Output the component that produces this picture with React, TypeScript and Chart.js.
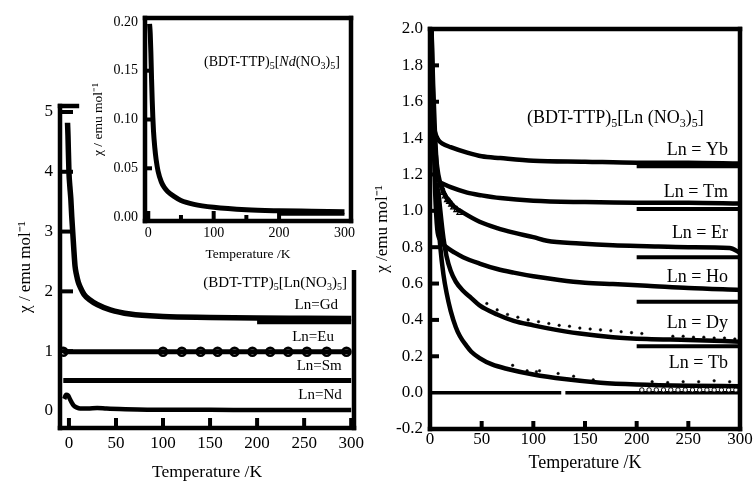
import React, { useEffect, useRef } from 'react';
import { Chart, registerables } from 'chart.js';
Chart.register(...registerables);

const FONT = "'Liberation Serif', 'Times New Roman', Times, serif";

// ---------- Left main panel ----------
const leftXTicks = [0, 50, 100, 150, 200, 250, 300];
const leftXTickLabels = ['0', '50', '100', '150', '200', '250', '300'];
const leftYTicks = [0, 1, 2, 3, 4, 5];
const leftYTickLabels = ['0', '1', '2', '3', '4', '5'];

const tGd = [-1.5, -1, 0, 1, 2, 3, 4, 5, 6.5, 8, 10, 12, 16, 22, 30, 44, 65, 100, 150, 200, 250, 300];
const chiGd = [4.82, 4.6, 4.0, 3.75, 3.55, 3.25, 3.0, 2.75, 2.42, 2.28, 2.15, 2.07, 1.95, 1.86, 1.78, 1.69, 1.62, 1.58, 1.565, 1.555, 1.55, 1.545];
const tGdBar = [200, 300];
const chiGdBar = [1.49, 1.49];

const tEu = [-6, 0, 20, 40, 60, 80, 100, 150, 200, 250, 300];
const chiEu = [0.99, 0.99, 0.99, 0.99, 0.99, 0.99, 0.99, 0.99, 0.99, 0.99, 0.99];
const tEuCircles = [-6, 100, 120, 140, 158, 176, 195, 214, 233, 253, 274, 295];
const chiEuCircles = [0.99, 0.99, 0.99, 0.99, 0.99, 0.99, 0.99, 0.99, 0.99, 0.99, 0.99, 0.99];

const tSm = [-6, 0, 20, 40, 60, 80, 100, 150, 200, 250, 300];
const chiSm = [0.51, 0.51, 0.51, 0.51, 0.51, 0.51, 0.51, 0.51, 0.51, 0.51, 0.51];

const tNdMain = [-5, -3, -1, 1, 3, 5, 8, 12, 20, 30, 40, 60, 100, 150, 200, 250, 300];
const chiNdMain = [0.2, 0.27, 0.26, 0.2, 0.14, 0.09, 0.06, 0.04, 0.04, 0.05, 0.04, 0.03, 0.02, 0.02, 0.015, 0.015, 0.015];

// ---------- Inset (Nd) ----------
const insetXTicks = [0, 100, 200, 300];
const insetXTickLabels = ['0', '100', '200', '300'];
const insetYTicks = [0, 0.05, 0.1, 0.15, 0.2];
const insetYTickLabels = ['0.00', '0.05', '0.10', '0.15', '0.20'];

const tNd = [2, 3, 4, 5, 6, 7, 8, 10, 12, 15, 20, 25, 30, 40, 50, 70, 100, 150, 200, 250, 300];
const chiNd = [0.198, 0.188, 0.168, 0.142, 0.12, 0.102, 0.088, 0.071, 0.059, 0.047, 0.036, 0.03, 0.026, 0.021, 0.017, 0.013, 0.01, 0.0075, 0.0065, 0.006, 0.0055];
const tNdBar = [200, 300];
const chiNdBar = [0.003, 0.003];

// ---------- Right panel ----------
const rightXTicks = [0, 50, 100, 150, 200, 250, 300];
const rightXTickLabels = ['0', '50', '100', '150', '200', '250', '300'];
const rightYTicks = [-0.2, 0, 0.2, 0.4, 0.6, 0.8, 1.0, 1.2, 1.4, 1.6, 1.8, 2.0];
const rightYTickLabels = ['-0.2', '0.0', '0.2', '0.4', '0.6', '0.8', '1.0', '1.2', '1.4', '1.6', '1.8', '2.0'];

const tYb = [1.5, 3, 5, 8, 12, 20, 36, 50, 68, 100, 150, 200, 250, 300];
const chiYb = [1.62, 1.5, 1.43, 1.39, 1.37, 1.35, 1.32, 1.3, 1.29, 1.275, 1.27, 1.265, 1.265, 1.26];
const tTm = [1.5, 3, 5, 8, 12, 20, 36, 50, 68, 100, 150, 200, 250, 300];
const chiTm = [1.72, 1.45, 1.28, 1.17, 1.15, 1.13, 1.1, 1.085, 1.07, 1.055, 1.048, 1.045, 1.045, 1.04];
const tEr = [1.5, 3, 5, 8, 12, 16, 24, 32, 48, 65, 81, 100, 113, 145, 177, 210, 250, 290, 300];
const chiEr = [1.82, 1.55, 1.35, 1.2, 1.12, 1.07, 1.02, 0.99, 0.94, 0.905, 0.88, 0.855, 0.835, 0.82, 0.81, 0.805, 0.8, 0.795, 0.77];
const tErTri = [9, 11, 13, 15, 17, 19, 21, 23, 26, 29];
const chiErTri = [1.16, 1.13, 1.1, 1.08, 1.06, 1.05, 1.035, 1.02, 1.005, 0.99];
const tHo = [1.5, 3, 5, 7, 10, 16, 24, 32, 48, 65, 81, 100, 125, 150, 177, 210, 250, 300];
const chiHo = [1.9, 1.5, 1.1, 0.9, 0.84, 0.8, 0.77, 0.745, 0.71, 0.68, 0.66, 0.64, 0.62, 0.605, 0.597, 0.588, 0.575, 0.565];
const tDy = [1.5, 3, 5, 8, 10, 13, 16, 20, 25, 32, 40, 48, 65, 81, 100, 113, 145, 177, 210, 250, 300];
const chiDy = [2.0, 1.7, 1.4, 1.12, 1.0, 0.85, 0.75, 0.67, 0.61, 0.56, 0.52, 0.48, 0.43, 0.395, 0.37, 0.355, 0.325, 0.305, 0.295, 0.29, 0.28];
const tDyDots = [55, 65, 75, 85, 95, 105, 115, 125, 135, 145, 155, 165, 175, 185, 195, 205, 235, 245, 255, 265, 275, 285, 295];
const chiDyDots = [0.49, 0.455, 0.43, 0.415, 0.4, 0.39, 0.38, 0.37, 0.365, 0.355, 0.35, 0.345, 0.34, 0.335, 0.33, 0.325, 0.31, 0.31, 0.305, 0.305, 0.3, 0.3, 0.295];
const tTb = [1.5, 3, 5, 8, 10, 13, 16, 20, 25, 29, 35, 40, 48, 60, 75, 100, 130, 165, 200, 250, 300];
const chiTb = [2.0, 1.6, 1.25, 0.95, 0.8, 0.65, 0.55, 0.45, 0.36, 0.31, 0.26, 0.225, 0.19, 0.155, 0.13, 0.1, 0.075, 0.055, 0.045, 0.038, 0.035];
const tTbDots = [80, 94, 103, 106, 124, 139, 158, 215, 230, 245, 260, 275, 290];
const chiTbDots = [0.15, 0.12, 0.115, 0.12, 0.105, 0.09, 0.07, 0.06, 0.055, 0.06, 0.06, 0.065, 0.06];
const tTbOpen = [205, 212, 219, 226, 233, 240, 247, 254, 261, 268, 275, 282, 289, 296];
const chiTbOpen = [0.015, 0.015, 0.015, 0.015, 0.015, 0.015, 0.015, 0.015, 0.015, 0.015, 0.015, 0.015, 0.015, 0.015];
const tRefBar = [200, 300];
const chiYbBar = [1.245, 1.245];
const chiTmBar = [1.01, 1.01];
const chiErBar = [0.745, 0.745];
const chiHoBar = [0.5, 0.5];
const chiDyBar = [0.255, 0.255];
const tZero = [0, 127, 129, 131, 300];
const chiZero: (number | null)[] = [0, 0, null, 0, 0];

// ---------- helpers ----------
type Pt = { x: number; y: number | null };
const pts = (t: number[], v: (number | null)[]): Pt[] => t.map((x, i) => ({ x, y: v[i] }));

const lineDs = (data: Pt[], width: number) => ({
  data,
  borderColor: '#000',
  backgroundColor: '#000',
  borderWidth: width,
  pointRadius: 0,
  cubicInterpolationMode: 'monotone',
  fill: false,
  spanGaps: false,
});
const markDs = (data: Pt[], style: string, r: number, bw: number, bg: string) => ({
  data,
  showLine: false,
  borderColor: '#000',
  backgroundColor: bg,
  pointStyle: style,
  pointRadius: r,
  pointBorderWidth: bw,
  pointBackgroundColor: bg,
  pointBorderColor: '#000',
});

type Part = { t: string; sub?: boolean; sup?: boolean; it?: boolean };
type Note = { x: number; y: number; align: 'left' | 'right'; size: number; parts: Part[] };

function drawRich(ctx: CanvasRenderingContext2D, parts: Part[], x: number, y: number, size: number, align: string) {
  const fontOf = (p: Part) => `${p.it ? 'italic ' : ''}${p.sub || p.sup ? Math.round(size * 0.68) : size}px ${FONT}`;
  const widths = parts.map((p) => {
    ctx.font = fontOf(p);
    return ctx.measureText(p.t).width;
  });
  const total = widths.reduce((a, b) => a + b, 0);
  let cx = align === 'right' ? x - total : x;
  ctx.textBaseline = 'middle';
  ctx.textAlign = 'left';
  ctx.fillStyle = '#000';
  parts.forEach((p, i) => {
    ctx.font = fontOf(p);
    const dy = p.sub ? size * 0.32 : p.sup ? -size * 0.35 : 0;
    ctx.fillText(p.t, cx, y + dy);
    cx += widths[i];
  });
}

type FrameCfg = {
  width: number;
  tickWidth: number;
  xTicks: { v: number; len: number }[];
  yTicks: { v: number; len: number }[];
  topTo?: number; // x value where top edge ends (partial)
  rightFrom?: number; // y value where right edge starts (partial)
};

const makeFrame = (cfg: FrameCfg) => ({
  id: 'frame',
  afterDatasetsDraw(chart: any) {
    const { ctx, chartArea: a, scales } = chart;
    const xs = scales.x;
    const ys = scales.y;
    ctx.save();
    ctx.strokeStyle = '#000';
    ctx.lineCap = 'butt';
    ctx.lineWidth = cfg.tickWidth;
    for (const t of cfg.xTicks) {
      const px = xs.getPixelForValue(t.v);
      ctx.beginPath();
      ctx.moveTo(px, a.bottom);
      ctx.lineTo(px, a.bottom - t.len);
      ctx.stroke();
    }
    for (const t of cfg.yTicks) {
      const py = ys.getPixelForValue(t.v);
      ctx.beginPath();
      ctx.moveTo(a.left, py);
      ctx.lineTo(a.left + t.len, py);
      ctx.stroke();
    }
    ctx.lineWidth = cfg.width;
    ctx.lineCap = 'square';
    const seg = (x1: number, y1: number, x2: number, y2: number) => {
      ctx.beginPath();
      ctx.moveTo(x1, y1);
      ctx.lineTo(x2, y2);
      ctx.stroke();
    };
    seg(a.left, a.top, a.left, a.bottom);
    seg(a.left, a.bottom, a.right, a.bottom);
    const topEnd = cfg.topTo === undefined ? a.right : xs.getPixelForValue(cfg.topTo);
    seg(a.left, a.top, topEnd, a.top);
    const rightStart = cfg.rightFrom === undefined ? a.top : ys.getPixelForValue(cfg.rightFrom);
    seg(a.right, rightStart, a.right, a.bottom);
    ctx.restore();
  },
});

const makeNotes = (notes: Note[]) => ({
  id: 'notes',
  afterDraw(chart: any) {
    const { ctx, scales } = chart;
    ctx.save();
    for (const n of notes) {
      drawRich(ctx, n.parts, scales.x.getPixelForValue(n.x), scales.y.getPixelForValue(n.y), n.size, n.align);
    }
    ctx.restore();
  },
});

type Spec = {
  datasets: any[];
  padding: { left: number; right: number; top: number; bottom: number };
  x: { min: number; max: number; ticks: number[]; labels: string[]; size: number; pad: number; height: number; title: string; titleSize: number; titlePad: number };
  y: { min: number; max: number; ticks: number[]; labels: string[]; size: number; pad: number; width: number; title: string; titleSize: number; titlePad: number };
  frame: FrameCfg;
  notes: Note[];
};

function build(canvas: HTMLCanvasElement, s: Spec) {
  return new Chart(canvas, {
    type: 'line',
    data: { datasets: s.datasets },
    options: {
      animation: false,
      responsive: false,
      devicePixelRatio: 1,
      layout: { padding: s.padding },
      plugins: { legend: { display: false }, tooltip: { enabled: false } },
      scales: {
        x: {
          type: 'linear',
          min: s.x.min,
          max: s.x.max,
          grid: { display: false, drawTicks: false },
          border: { display: false },
          ticks: {
            color: '#000',
            font: { family: FONT, size: s.x.size },
            padding: s.x.pad,
            autoSkip: false,
            maxRotation: 0,
            callback: (_v: any, i: number) => s.x.labels[i],
          },
          afterBuildTicks: (sc: any) => {
            sc.ticks = s.x.ticks.map((v) => ({ value: v }));
          },
          afterFit: (sc: any) => {
            sc.height = s.x.height;
            sc.paddingLeft = 0;
            sc.paddingRight = 0;
          },
          title: {
            display: true,
            text: s.x.title,
            color: '#000',
            font: { family: FONT, size: s.x.titleSize, lineHeight: 1.2 },
            padding: { top: 0, bottom: s.x.titlePad },
          },
        },
        y: {
          type: 'linear',
          min: s.y.min,
          max: s.y.max,
          grid: { display: false, drawTicks: false },
          border: { display: false },
          ticks: {
            color: '#000',
            font: { family: FONT, size: s.y.size },
            padding: s.y.pad,
            autoSkip: false,
            callback: (_v: any, i: number) => s.y.labels[i],
          },
          afterBuildTicks: (sc: any) => {
            sc.ticks = s.y.ticks.map((v) => ({ value: v }));
          },
          afterFit: (sc: any) => {
            sc.width = s.y.width;
            sc.paddingTop = 0;
            sc.paddingBottom = 0;
          },
          title: {
            display: true,
            text: s.y.title,
            color: '#000',
            font: { family: FONT, size: s.y.titleSize, lineHeight: 1.2 },
            padding: { top: s.y.titlePad, bottom: 0 },
          },
        },
      },
    } as any,
    plugins: [makeFrame(s.frame), makeNotes(s.notes)] as any,
  });
}

const formula = (metal: Part[], spaced: boolean): Part[] => [
  { t: '(BDT-TTP)' },
  { t: '5', sub: true },
  { t: '[' },
  ...metal,
  { t: spaced ? ' (NO' : '(NO' },
  { t: '3', sub: true },
  { t: ')' },
  { t: '5', sub: true },
  { t: ']' },
];

export default function App() {
  const leftRef = useRef<HTMLCanvasElement>(null);
  const insetRef = useRef<HTMLCanvasElement>(null);
  const rightRef = useRef<HTMLCanvasElement>(null);

  useEffect(() => {
    const charts: Chart[] = [];
    if (leftRef.current) {
      charts.push(
        build(leftRef.current, {
          datasets: [
            lineDs(pts(tGd, chiGd), 5.5),
            lineDs(pts(tGdBar, chiGdBar), 5),
            lineDs(pts(tEu, chiEu), 5),
            markDs(pts(tEuCircles, chiEuCircles), 'circle', 4, 2.5, '#fff'),
            lineDs(pts(tSm, chiSm), 5),
            lineDs(pts(tNdMain, chiNdMain), 4.5),
          ],
          padding: { left: 0, right: 18, top: 11, bottom: 0 },
          x: { min: -9.5, max: 303, ticks: leftXTicks, labels: leftXTickLabels, size: 17, pad: 5, height: 55, title: 'Temperature /K', titleSize: 17.5, titlePad: 0 },
          y: { min: -0.285, max: 5.1, ticks: leftYTicks, labels: leftYTickLabels, size: 17, pad: 7, width: 60, title: 'χ / emu mol⁻¹', titleSize: 17, titlePad: 15 },
          frame: {
            width: 4.5,
            tickWidth: 4,
            xTicks: leftXTicks.map((v) => ({ v, len: 10 })),
            yTicks: [1, 2, 3, 4, 5].map((v) => ({ v, len: 13 })),
            topTo: 8.5,
            rightFrom: 2.32,
          },
          notes: [
            { x: 295.5, y: 2.14, align: 'right', size: 15, parts: formula([{ t: 'Ln' }], false) },
            { x: 286, y: 1.77, align: 'right', size: 15, parts: [{ t: 'Ln=Gd' }] },
            { x: 281.7, y: 1.24, align: 'right', size: 15, parts: [{ t: 'Ln=Eu' }] },
            { x: 290, y: 0.75, align: 'right', size: 15, parts: [{ t: 'Ln=Sm' }] },
            { x: 290, y: 0.27, align: 'right', size: 15, parts: [{ t: 'Ln=Nd' }] },
          ],
        })
      );
    }
    if (rightRef.current) {
      charts.push(
        build(rightRef.current, {
          datasets: [
            lineDs(pts(tYb, chiYb), 4.5),
            lineDs(pts(tTm, chiTm), 4.5),
            lineDs(pts(tEr, chiEr), 4.5),
            markDs(pts(tErTri, chiErTri), 'triangle', 3.5, 1.2, '#fff'),
            lineDs(pts(tHo, chiHo), 4.5),
            lineDs(pts(tDy, chiDy), 4.5),
            markDs(pts(tDyDots, chiDyDots), 'circle', 1.3, 0.5, '#000'),
            lineDs(pts(tTb, chiTb), 4.5),
            markDs(pts(tTbDots, chiTbDots), 'circle', 1.3, 0.5, '#000'),
            markDs(pts(tTbOpen, chiTbOpen), 'circle', 2.2, 1, '#fff'),
            lineDs(pts(tRefBar, chiYbBar), 4),
            lineDs(pts(tRefBar, chiTmBar), 4),
            lineDs(pts(tRefBar, chiErBar), 4),
            lineDs(pts(tRefBar, chiHoBar), 4),
            lineDs(pts(tRefBar, chiDyBar), 4),
            lineDs(pts(tZero, chiZero), 3.5),
          ],
          padding: { left: 0, right: 14, top: 29, bottom: 0 },
          x: { min: 0, max: 300, ticks: rightXTicks, labels: rightXTickLabels, size: 17, pad: 0, height: 54, title: 'Temperature /K', titleSize: 18, titlePad: 9 },
          y: { min: -0.2, max: 2.0, ticks: rightYTicks, labels: rightYTickLabels, size: 17, pad: 7, width: 60, title: 'χ /emu mol⁻¹', titleSize: 17, titlePad: 2 },
          frame: {
            width: 4.5,
            tickWidth: 4,
            xTicks: [50, 100, 150, 200, 250].map((v) => ({ v, len: 8 })),
            yTicks: [0.2, 0.4, 0.6, 0.8, 1.0, 1.2, 1.4, 1.6, 1.8].map((v) => ({ v, len: 9 })),
          },
          notes: [
            { x: 93.9, y: 1.51, align: 'left', size: 18, parts: formula([{ t: 'Ln' }], true) },
            { x: 288.4, y: 1.334, align: 'right', size: 18, parts: [{ t: 'Ln = Yb' }] },
            { x: 288.4, y: 1.103, align: 'right', size: 18, parts: [{ t: 'Ln = Tm' }] },
            { x: 288.4, y: 0.878, align: 'right', size: 18, parts: [{ t: 'Ln = Er' }] },
            { x: 288.4, y: 0.636, align: 'right', size: 18, parts: [{ t: 'Ln = Ho' }] },
            { x: 288.4, y: 0.383, align: 'right', size: 18, parts: [{ t: 'Ln = Dy' }] },
            { x: 288.4, y: 0.163, align: 'right', size: 18, parts: [{ t: 'Ln = Tb' }] },
          ],
        })
      );
    }
    if (insetRef.current) {
      charts.push(
        build(insetRef.current, {
          datasets: [lineDs(pts(tNd, chiNd), 5), lineDs(pts(tNdBar, chiNdBar), 3)],
          padding: { left: 0, right: 19, top: 18, bottom: 0 },
          x: { min: -5, max: 310, ticks: insetXTicks, labels: insetXTickLabels, size: 14, pad: 4, height: 47, title: 'Temperature /K', titleSize: 13.5, titlePad: 5 },
          y: { min: -0.004, max: 0.204, ticks: insetYTicks, labels: insetYTickLabels, size: 14, pad: 7, width: 65, title: 'χ / emu mol⁻¹', titleSize: 13.5, titlePad: 10 },
          frame: {
            width: 4.5,
            tickWidth: 4,
            xTicks: [
              { v: 0, len: 10 },
              { v: 50, len: 6 },
              { v: 100, len: 10 },
              { v: 150, len: 6 },
              { v: 200, len: 10 },
            ],
            yTicks: [0.05, 0.1, 0.15].map((v) => ({ v, len: 7 })),
          },
          notes: [
            { x: 293, y: 0.159, align: 'right', size: 14, parts: formula([{ t: 'Nd', it: true }], false) },
          ],
        })
      );
    }
    return () => charts.forEach((c) => c.destroy());
  }, []);

  return (
    <div style={{ position: 'absolute', left: 0, top: 0, width: 754, height: 483, background: '#fff', overflow: 'hidden' }}>
      <canvas ref={leftRef} width={372} height={388} style={{ position: 'absolute', left: 0, top: 95 }} />
      <canvas ref={rightRef} width={384} height={483} style={{ position: 'absolute', left: 370, top: 0 }} />
      <canvas ref={insetRef} width={290} height={268} style={{ position: 'absolute', left: 80, top: 0 }} />
    </div>
  );
}
